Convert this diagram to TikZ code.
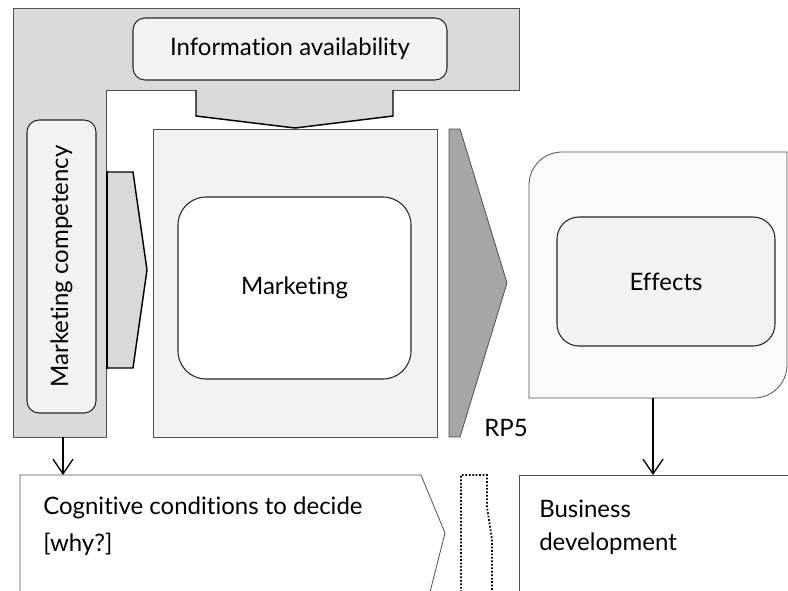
\documentclass[tikz,border=0pt]{standalone}
\usepackage{fontspec}
\setmainfont[Ligatures=NoCommon]{Lato}
\usetikzlibrary{arrows.meta}
\definecolor{edge}{HTML}{505050}
\definecolor{lgray}{HTML}{D9D9D9}
\definecolor{pale}{HTML}{F2F2F2}
\definecolor{paler}{HTML}{FAFAFA}
\definecolor{dgray}{HTML}{A6A6A6}
\tikzset{
  txt/.style={font=\fontsize{18}{22}\selectfont, inner sep=0pt},
  rbox/.style={draw=black!85, line width=0.8pt, fill=pale, font=\fontsize{18}{22}\selectfont, inner sep=0pt},
  plainbox/.style={draw=edge, line width=0.6pt},
  fatarrow/.style={fill=lgray, draw=black, line width=1.1pt, line join=miter},
  conn/.style={draw=black, line width=1pt, -{Straight Barb[length=11pt,width=15pt,line width=1pt]}}
}
\begin{document}
\begin{tikzpicture}[x=0.75pt,y=-0.75pt]
\useasboundingbox (0,0) rectangle (788,590);
\clip (0,0) rectangle (788,590);

% gray L-shaped frame
\draw[plainbox, fill=lgray] (13,8) -- (519,8) -- (519,90) -- (106,90) -- (106,437) -- (13,437) -- cycle;
\coordinate (lbot) at (63,437);

% information availability
\node[rbox, minimum width=235.5pt, minimum height=46.5pt, rounded corners=9pt] (info) at (290,49) {Information availability};

% down arrow under info
\fill[lgray] (196,90) -- (196,116) -- (295,128) -- (393,116) -- (393,90) -- cycle;
\draw[fatarrow, fill=none] (196,90) -- (196,116) -- (295,128) -- (393,116) -- (393,90);

% marketing
\node[plainbox, fill=pale, minimum width=213pt, minimum height=231pt] (mkto) at (295,283) {};
\node[rbox, fill=white, minimum width=174.75pt, minimum height=136.5pt, rounded corners=21pt] (mkt) at (294.5,288) {Marketing};

% marketing competency
\node[rbox, rotate=90, minimum width=219.75pt, minimum height=51.75pt, rounded corners=9pt] (comp) at (61.5,266.5) {Marketing competency};

% right arrow from competency
\draw[fatarrow] (107,172) -- (133,172) -- (147,270) -- (133,368) -- (107,368) -- cycle;
\draw[black, line width=1.4pt] (107,171) -- (107,369);

% RP5 arrow
\draw[plainbox, fill=dgray] (449,129) -- (460,129) -- (507,283) -- (460,437) -- (449,437) -- cycle;
\node[txt] (rp5) at (506,428) {RP5};

% effects outer
\draw[plainbox, fill=paler] (529,398) -- (529,185) arc[start angle=180, end angle=90, radius=24.75pt]
  -- (787,152) -- (787,365) arc[start angle=0, end angle=-90, radius=24.75pt] -- cycle;
\coordinate (effbot) at (653,398);
\node[rbox, minimum width=163.5pt, minimum height=96.75pt, rounded corners=16.5pt] (eff) at (666,281.5) {Effects};

% business development
\node[plainbox, fill=white, anchor=north west, minimum width=210.75pt, minimum height=97.5pt] (bus) at (519,475) {};
\node[txt, anchor=base west] (bus1) at (539,517) {Business};
\node[txt, anchor=base west] (bus2) at (539,550) {development};

% cognitive conditions
\draw[plainbox, fill=white] (20,600) -- (20,475) -- (421,475) -- (445,533) -- (428,600);
\coordinate (cogtop) at (63,475);
\node[txt, anchor=base west] (cog1) at (43,514) {Cognitive conditions to decide};
\node[txt, anchor=base west] (cog2) at (43,551) {[why?]};

% dotted shape
\draw[black, line width=1.3pt, dash pattern=on 1.3pt off 1.3pt] (461,592) -- (461,475) -- (487,475) -- (487,507) -- (492,540) -- (492,592);

% connectors
\draw[conn] (lbot) -- (cogtop);
\draw[conn] (effbot) -- (bus.north -| effbot);
\end{tikzpicture}
\end{document}
